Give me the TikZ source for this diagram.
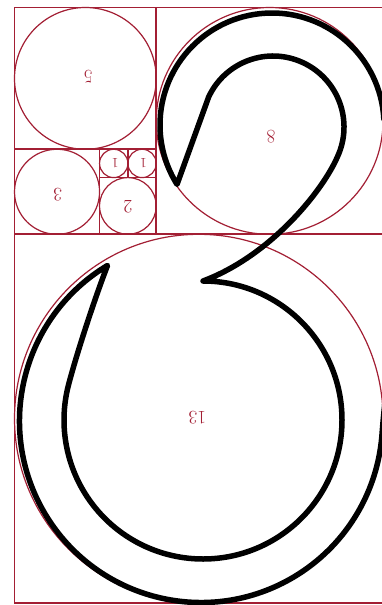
\documentclass[tikz,border=0pt]{standalone}
\usepackage{tikz}
\definecolor{fibred}{HTML}{A31F34}
\begin{document}
\begin{tikzpicture}[x=1pt,y=-1pt,
  gridline/.style={draw=fibred,line width=1.7pt},
  fibcircle/.style={draw=fibred,line width=1.2pt},
  fiblabel/.style={text=fibred,rotate=180,inner sep=0pt,font=\fontsize{19}{19}\selectfont},
  smalllabel/.style={fiblabel,font=\fontsize{14}{14}\selectfont},
  blackline/.style={draw=black,line width=5.5pt,line join=round,line cap=round}]
\useasboundingbox (0,0) rectangle (382,605);
\fill[white] (0,0) rectangle (382,605);
\begin{scope}[shift={(14.5,7.5)},x=28.35pt,y=-28.35pt]
  % squares
  \draw[gridline] (0,0) rectangle (13,21);
  \draw[gridline] (0,8) -- (13,8);
  \draw[gridline] (5,0) -- (5,8);
  \draw[gridline] (0,5) -- (5,5);
  \draw[gridline] (3,5) -- (3,8);
  \draw[gridline] (3,6) -- (5,6);
  \draw[gridline] (4,5) -- (4,6);
  % circles
  \draw[fibcircle] (2.5,2.5) circle[radius=70.875pt];
  \draw[fibcircle] (9,4) circle[radius=113.4pt];
  \draw[fibcircle] (1.5,6.5) circle[radius=42.525pt];
  \draw[fibcircle] (3.5,5.5) circle[radius=14.175pt];
  \draw[fibcircle] (4.5,5.5) circle[radius=14.175pt];
  \draw[fibcircle] (4,7) circle[radius=28.35pt];
  \draw[fibcircle] (6.5,14.5) circle[radius=184.275pt];
  % labels
  \node[fiblabel] (l5) at (2.6,2.45) {5};
  \node[fiblabel] (l8) at (9.05,4.57) {8};
  \node[fiblabel] (l3) at (1.53,6.6) {3};
  \node[fiblabel] (l2) at (4.0,7.03) {2};
  \node[smalllabel] (l1a) at (3.55,5.5) {1};
  \node[smalllabel] (l1b) at (4.55,5.5) {1};
  \node[fiblabel] (l13) at (6.45,14.45) {13};
\end{scope}
% black outline
\draw[blackline]
  (383.85,119.14) arc[start angle=-3, end angle=-212, radius=112]
  -- (208.65,97.00) arc[start angle=-155, end angle=25, radius=71]
  .. controls (322,192) and (270,256) .. (203,281)
  arc[start angle=-90, end angle=195, radius=139]
  .. controls (77.7,350) and (96,295) .. (107.52,265.42)
  arc[start angle=239, end angle=5, radius=181.5]
  .. controls (383.5,415) and (385,400) .. (388,378);
\end{tikzpicture}
\end{document}
